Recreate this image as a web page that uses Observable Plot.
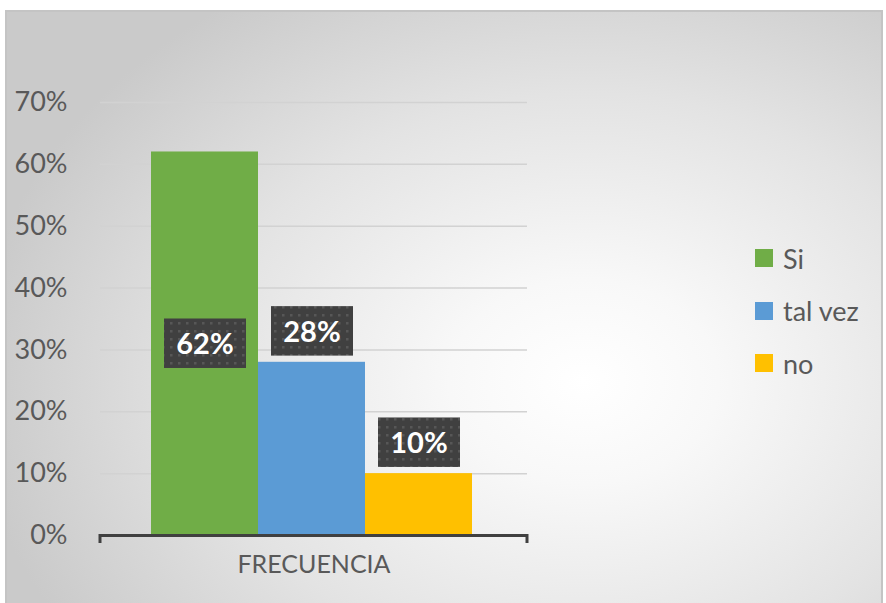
<!DOCTYPE html>
<html><head><meta charset="utf-8">
<script src="https://cdn.jsdelivr.net/npm/d3@7"></script>
<script src="https://cdn.jsdelivr.net/npm/@observablehq/plot@0.6"></script>
<style>
html,body{margin:0;padding:0;background:#fff;}
#wrap{position:relative;width:886px;height:603px;overflow:hidden;font-family:Lato,"Open Sans",sans-serif;}
#bg{position:absolute;left:5px;top:10px;width:878px;height:600px;border:2px solid #c4c4c4;box-sizing:border-box;
  background:radial-gradient(ellipse 70% 78% at 66% 62%, #ffffff 0%, #f8f8f8 22%, #e3e3e3 62%, #cacaca 100%);}
#chart{position:absolute;left:0;top:0;}
#legend{position:absolute;left:755px;top:232px;}
.li{display:flex;align-items:center;height:52.5px;font-size:27px;color:#595959;}
.sw{width:18px;height:18px;margin-right:10px;}
</style>
</head><body>
<div id="wrap"><div id="bg"></div><div id="chart"></div><div id="legend"></div></div>
<script>
const categories = ["Si", "tal vez", "no"];
const values = [0.62, 0.28, 0.10];
const colors = ["#70ad47", "#5b9bd5", "#ffc000"];
const yTicks = [0, 0.1, 0.2, 0.3, 0.4, 0.5, 0.6, 0.7];
const axisTitle = "FRECUENCIA";

const data = categories.map((c, i) => ({cat: c, value: values[i], labelY: values[i] > 0.5 ? values[i] / 2 : values[i] + 0.05}));

const plot = Plot.plot({
  width: 886, height: 603,
  marginLeft: 100, marginRight: 359, marginTop: 102, marginBottom: 68,
  style: {background: "transparent", fontFamily: "Lato, 'Open Sans', sans-serif"},
  x: {domain: categories, paddingInner: 0, paddingOuter: 0.495, align: 0.48, axis: null},
  y: {domain: [0, 0.7]},
  color: {domain: categories, range: colors},
  marks: [
    Plot.gridY(yTicks.filter(d => d > 0), {stroke: "#d2d2d2", strokeOpacity: 1, strokeWidth: 1.5}),
    Plot.axisY(yTicks, {tickFormat: d3.format(".0%"), tickSize: 0, tickPadding: 33, fontSize: 27, fill: "#595959"}),
    Plot.barY(data, {x: "cat", y: "value", fill: "cat"}),
    Plot.ruleY([0], {stroke: "#404040", strokeWidth: 3}),
    Plot.rect(data, {x: "cat", y1: d => d.labelY - 0.04, y2: d => d.labelY + 0.04, insetLeft: 13, insetRight: 12, fill: "url(#dots)", ariaLabel: "labelbox"}),
    Plot.text(data, {x: "cat", y: "labelY", text: d => d3.format(".0%")(d.value), fill: "white", fontSize: 29, fontWeight: "bold", dy: 1}),
    Plot.text([axisTitle], {frameAnchor: "bottom", dy: 37, fontSize: 25, fill: "#595959", ariaLabel: "xtitle"})
  ]
});

const svg = d3.select(plot);
const defs = svg.insert("defs", ":first-child");
const pat = defs.append("pattern").attr("id", "dots").attr("patternUnits", "userSpaceOnUse").attr("width", 8).attr("height", 8);
pat.append("rect").attr("width", 8).attr("height", 8).attr("fill", "#404040");
pat.append("rect").attr("x", 2).attr("y", 2).attr("width", 2.5).attr("height", 2.5).attr("fill", "#575757");
const f = defs.append("filter").attr("id", "shadow").attr("x", "-20%").attr("y", "-20%").attr("width", "150%").attr("height", "150%");
f.append("feDropShadow").attr("dx", 3).attr("dy", 4).attr("stdDeviation", 3).attr("flood-color", "#000").attr("flood-opacity", 0.45);
svg.selectAll('g[aria-label="labelbox"] rect').attr("filter", "url(#shadow)");
svg.selectAll('g[aria-label="xtitle"] text').style("letter-spacing", "1.6px");

// end caps of the category axis, from the library's scales
const xr = plot.scale("x").range, y0 = plot.scale("y").apply(0);
[xr[0], xr[1]].forEach(x => {
  svg.append("line").attr("x1", x).attr("x2", x).attr("y1", y0 - 1).attr("y2", y0 + 8)
    .attr("stroke", "#404040").attr("stroke-width", 3);
});

document.getElementById("chart").appendChild(plot);

const legend = d3.select("#legend");
categories.forEach((c, i) => {
  const row = legend.append("div").attr("class", "li");
  row.append("div").attr("class", "sw").style("background", colors[i]);
  row.append("span").text(c);
});
</script>
</body></html>
